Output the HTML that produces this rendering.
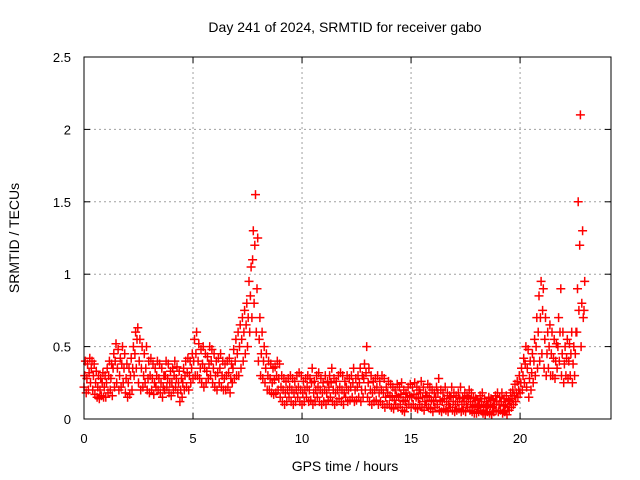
<!DOCTYPE html>
<html><head><meta charset="utf-8"><style>
body{margin:0;background:#fff}
svg{display:block;font-family:"Liberation Sans",sans-serif}
</style></head><body>
<svg id="chart" width="640" height="480">
<rect width="640" height="480" fill="#fff"/>
<g id="grid"></g>
<g id="marks"></g>
<rect x="84" y="57" width="527" height="362" fill="none" stroke="#000" stroke-width="1"/>
<g id="ticks"></g>
<text x="345" y="32" text-anchor="middle" font-size="14">Day 241 of 2024, SRMTID for receiver gabo</text>
<text x="345" y="471" text-anchor="middle" font-size="14">GPS time / hours</text>
<text transform="translate(19,238) rotate(-90)" text-anchor="middle" font-size="14">SRMTID / TECUs</text>
</svg>
<script>
const xTicks=[0,5,10,15,20];
const yTicks=[0,0.5,1,1.5,2,2.5];
const yTickLabels=["0","0.5","1","1.5","2","2.5"];
const lo=[.22,.18,.2,.25,.2,.17,.15,.14,.16,.15,.15,.18,.2,.16,.22,.25,.2,.22,.25,.18,.15,.17,.2,.3,.35,.25,.2,.22,.25,.2,.18,.2,.17,.22,.2,.18,.15,.2,.22,.18,.16,.2,.22,.18,.12,.15,.2,.22,.2,.25,.28,.3,.3,.28,.25,.22,.25,.28,.3,.25,.22,.2,.25,.22,.2,.2,.22,.18,.25,.28,.3,.3,.35,.4,.45,.5,.6,.7,.8,.6,.4,.3,.28,.25,.2,.2,.18,.17,.18,.2,.15,.12,.1,.12,.15,.12,.1,.12,.15,.12,.1,.12,.15,.12,.13,.1,.12,.15,.12,.1,.12,.1,.13,.15,.12,.1,.12,.14,.12,.1,.15,.12,.13,.15,.12,.13,.15,.12,.15,.2,.15,.12,.1,.12,.13,.1,.12,.1,.08,.1,.1,.08,.07,.1,.08,.1,.06,.05,.08,.1,.08,.1,.08,.07,.1,.08,.06,.1,.08,.07,.05,.08,.1,.06,.05,.07,.06,.05,.08,.06,.05,.06,.07,.05,.06,.05,.08,.06,.05,.04,.04,.05,.06,.04,.03,.05,.04,.03,.05,.06,.05,.06,.04,.05,.03,.06,.08,.1,.12,.15,.18,.2,.25,.22,.15,.2,.25,.3,.35,.4,.45,.35,.3,.35,.3,.3,.28,.35,.4,.3,.25,.3,.28,.3,.25,.3,.6,.75,.5,.7];
const mid=[.3,.28,.32,.35,.3,.25,.22,.2,.25,.22,.25,.3,.28,.35,.4,.35,.3,.38,.35,.28,.25,.3,.35,.45,.55,.4,.35,.3,.35,.28,.3,.28,.25,.3,.28,.25,.22,.3,.28,.25,.25,.3,.28,.25,.2,.25,.3,.32,.3,.35,.4,.45,.4,.35,.38,.35,.33,.38,.4,.35,.3,.32,.35,.3,.28,.3,.32,.28,.35,.4,.45,.5,.55,.6,.65,.7,.85,1.1,1.2,.9,.55,.45,.4,.35,.3,.28,.25,.27,.3,.28,.22,.2,.18,.2,.22,.2,.18,.2,.22,.2,.18,.2,.22,.2,.25,.18,.2,.22,.2,.18,.2,.18,.22,.25,.2,.18,.2,.22,.2,.18,.22,.2,.22,.25,.2,.22,.25,.2,.28,.32,.25,.2,.18,.2,.22,.18,.2,.18,.15,.18,.16,.15,.13,.16,.15,.17,.13,.12,.15,.16,.15,.17,.15,.14,.18,.15,.12,.16,.15,.13,.12,.15,.18,.13,.12,.14,.12,.1,.15,.12,.1,.12,.14,.1,.12,.1,.14,.12,.1,.09,.08,.1,.12,.09,.08,.1,.09,.08,.1,.12,.1,.12,.09,.1,.08,.12,.14,.16,.18,.2,.25,.3,.38,.35,.28,.32,.4,.5,.6,.7,.75,.55,.45,.5,.45,.42,.4,.5,.6,.45,.38,.42,.4,.45,.38,.45,.9,1.2,.8,.75];
const hi=[.4,.38,.42,.4,.38,.33,.3,.28,.32,.3,.35,.4,.38,.45,.52,.48,.42,.5,.45,.38,.35,.42,.5,.6,.63,.55,.5,.45,.5,.4,.42,.38,.35,.4,.38,.35,.3,.4,.38,.33,.35,.4,.36,.33,.28,.35,.4,.42,.4,.45,.55,.6,.52,.48,.5,.45,.43,.5,.48,.45,.4,.42,.45,.4,.38,.4,.42,.38,.48,.55,.6,.65,.7,.75,.8,.95,1.05,1.3,1.55,1.25,.7,.6,.5,.45,.4,.38,.35,.36,.4,.38,.3,.28,.26,.28,.3,.28,.26,.3,.32,.3,.26,.28,.3,.28,.35,.26,.3,.32,.28,.25,.3,.26,.3,.35,.28,.26,.3,.32,.3,.26,.3,.28,.3,.35,.28,.3,.35,.3,.38,.5,.35,.3,.26,.28,.3,.26,.3,.28,.22,.26,.24,.22,.2,.24,.22,.25,.2,.18,.22,.24,.22,.25,.22,.2,.26,.22,.18,.24,.22,.2,.18,.22,.28,.2,.18,.22,.18,.16,.22,.18,.16,.18,.22,.15,.18,.16,.2,.18,.15,.14,.13,.16,.18,.14,.12,.15,.14,.13,.16,.18,.15,.18,.14,.16,.13,.18,.2,.24,.26,.3,.35,.42,.5,.48,.4,.45,.55,.7,.85,.95,.9,.7,.6,.65,.6,.55,.52,.7,.9,.6,.5,.55,.52,.6,.5,.6,1.5,2.1,1.3,.95];
const ns="http://www.w3.org/2000/svg";
const X0=84,X1=611,Y0=419,Y1=57,XMAX=24.17,YMAX=2.5;
function xs(t){return X0+t/XMAX*(X1-X0);}
function ys(v){return Y0-v/YMAX*(Y0-Y1);}
const grid=document.getElementById('grid'),ticks=document.getElementById('ticks'),marks=document.getElementById('marks');
function mk(tag,attrs,parent){const e=document.createElementNS(ns,tag);for(const k in attrs)e.setAttribute(k,attrs[k]);parent.appendChild(e);return e;}
xTicks.forEach(t=>{
  const x=xs(t);
  if(t>0){const g=mk('line',{x1:x,x2:x,y1:Y0,y2:Y1,stroke:'#a0a0a0','stroke-dasharray':'2,3'},grid);
  
  }
  mk('line',{x1:x,x2:x,y1:Y0,y2:Y0-6,stroke:'#000'},ticks);
  mk('line',{x1:x,x2:x,y1:Y1,y2:Y1+6,stroke:'#000'},ticks);
  const l=mk('text',{x:x,y:443,'text-anchor':'middle','font-size':'13'},ticks);
  l.textContent=String(t);
  
  
});
yTicks.forEach((v,i)=>{
  const y=ys(v);
  if(v>0&&v<YMAX){const g=mk('line',{x1:X0,x2:X1,y1:y,y2:y,stroke:'#a0a0a0','stroke-dasharray':'2,3'},grid);
  
  }
  mk('line',{x1:X0,x2:X0+6,y1:y,y2:y,stroke:'#000'},ticks);
  mk('line',{x1:X1,x2:X1-6,y1:y,y2:y,stroke:'#000'},ticks);
  const l=mk('text',{x:71,y:y+5,'text-anchor':'end','font-size':'13'},ticks);
  l.textContent=yTickLabels[i];
  
  
});
let d='';
[[lo,0],[mid,0.033],[hi,0.066]].forEach(([arr,off])=>{
  arr.forEach((v,i)=>{
    const x=xs(i*0.1+off),y=ys(v);
    d+=`M${(x-4.5).toFixed(1)} ${y.toFixed(1)}h9M${x.toFixed(1)} ${(y-4.5).toFixed(1)}v9`;
  });
});
const p=mk('path',{d:d,stroke:'#ff0000','stroke-width':'1.5',fill:'none'},marks);


</script>
</body></html>
